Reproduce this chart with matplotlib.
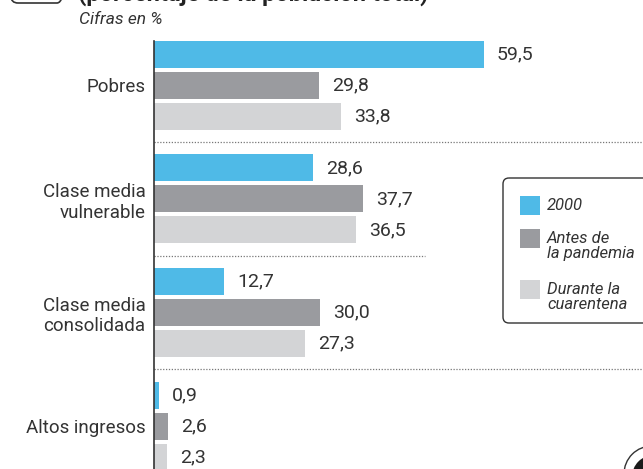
"""
Distribución de la población por estrato de ingresos — barras horizontales agrupadas
"""

import matplotlib
matplotlib.use("Agg")
import matplotlib.pyplot as plt
import numpy as np
from matplotlib import font_manager
from matplotlib.patches import FancyBboxPatch, Rectangle, Circle

# ── Data ─────────────────────────────────────────────────────────────────────
CATEGORIES = ["Pobres", "Clase media\nvulnerable", "Clase media\nconsolidada", "Altos ingresos"]
SERIES     = ["2000", "Antes de\nla pandemia", "Durante la\ncuarentena"]
V_2000     = [59.5, 28.6, 12.7, 0.9]
V_ANTES    = [29.8, 37.7, 30.0, 2.6]
V_CUAR     = [33.8, 36.5, 27.3, 2.3]
COLORS     = ["#4FBAE7", "#9A9B9F", "#D3D4D6"]
SUBTITLE   = "Cifras en %"
TITLE      = "(porcentaje de la población total)"

# ── Fonts ────────────────────────────────────────────────────────────────────
installed = {f.name for f in font_manager.fontManager.ttflist}
main_font = "Liberation Sans Narrow" if "Liberation Sans Narrow" in installed else "Roboto"
plt.rcParams["font.family"] = [main_font, "DejaVu Sans"]
TXT = "#333333"

W, H = 643, 469
fig = plt.figure(figsize=(W / 100, H / 100), dpi=100)

# ── Bars axes (pixel-based placement) ────────────────────────────────────────
ax_left, ax_top = 154, 41
ax = fig.add_axes([ax_left / W, 0, (W - ax_left) / W, (H - ax_top) / H])

px_per_unit = 330 / 59.5
pitch_px    = 113.5
xmax        = (W - ax_left) / px_per_unit
ax.set_xlim(0, xmax)
ax.set_ylim((H - 85.5) / pitch_px, -(85.5 - ax_top) / pitch_px)

offset = 31 / pitch_px
height = 27 / pitch_px
ypos   = np.arange(len(CATEGORIES))

for i, (vals, col) in enumerate(zip([V_2000, V_ANTES, V_CUAR], COLORS)):
    y = ypos + (i - 1) * offset
    ax.barh(y, vals, height=height, color=col, edgecolor="none")
    for yy, v in zip(y, vals):
        ax.annotate(f"{v:.1f}".replace(".", ","), (v, yy), xytext=(9.4, 0),
                    textcoords="offset points", va="center", ha="left",
                    fontsize=14, color=TXT)

# separators between groups
sep_ends = [xmax, (425 - ax_left) / px_per_unit, xmax]
for k, xe in enumerate(sep_ends):
    ax.plot([0, xe], [k + 0.5, k + 0.5], color="#777777", lw=0.9,
            linestyle=(0, (1, 1.3)), clip_on=False)

ax.set_yticks(ypos)
ax.set_yticklabels(CATEGORIES, fontsize=13.5, color=TXT, ha="right")
ax.tick_params(axis="y", length=0, pad=6)
ax.set_xticks([])
for s in ["top", "right", "bottom"]:
    ax.spines[s].set_visible(False)
ax.spines["left"].set_color("#333333")
ax.spines["left"].set_linewidth(1.2)
ax.set_facecolor("none")

# ── Overlay for titles, legend, logo (pixel coords) ──────────────────────────
ov = fig.add_axes([0, 0, 1, 1], zorder=5)
ov.set_xlim(0, W)
ov.set_ylim(H, 0)
ov.axis("off")
ov.patch.set_alpha(0)

ov.text(79, 20, SUBTITLE, fontsize=12.5, style="italic", color=TXT, va="center", ha="left")
# title sits mostly above the canvas, as in the cropped original
ov.text(78, 1, TITLE, fontsize=17, fontweight="bold", color="#222222",
        va="baseline", ha="left")
ov.add_patch(FancyBboxPatch((11, -30), 53, 33, boxstyle="round,pad=0,rounding_size=7",
                            fill=False, ec="#333333", lw=1.2))

# legend
ov.add_patch(FancyBboxPatch((503, 178), 180, 145, boxstyle="round,pad=0,rounding_size=6",
                            fill=False, ec="#333333", lw=1.0))
leg_tops = [196, 229, 280]
for col, lab, yt in zip(COLORS, SERIES, leg_tops):
    ov.add_patch(Rectangle((520, yt), 20, 19, color=col, lw=0))
    ov.text(547, yt + 2, lab, fontsize=12, style="italic", color=TXT,
            va="top", ha="left", linespacing=1.0)

# logo (partially visible)
ov.add_patch(Circle((652, 474), 28, fill=False, ec="#333333", lw=1.0))
ov.add_patch(Circle((654, 477), 22, color="#1a1a1a", lw=0))

fig.savefig("out.png", dpi=100, facecolor="white")
